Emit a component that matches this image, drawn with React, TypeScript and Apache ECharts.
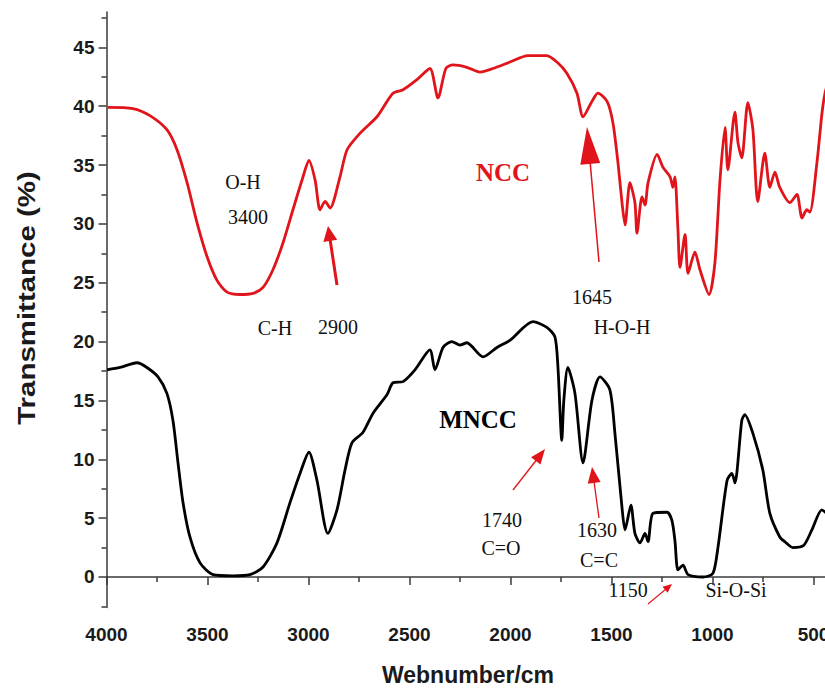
import React, { useEffect, useRef } from "react";
import * as echarts from "echarts";

// ---- Data ----
const nccWavenumber = [
  3993, 3869, 3785, 3701, 3651, 3601, 3552, 3502, 3453, 3403, 3339, 3275, 3225, 3176, 3126, 3077,
  3027, 2998, 2967, 2943, 2918, 2893, 2844, 2809, 2745, 2661, 2582, 2532, 2460, 2399, 2359, 2320,
  2285, 2216, 2151, 2087, 2003, 1914, 1820, 1770, 1721, 1671, 1641, 1597, 1567, 1522, 1493, 1468,
  1448, 1433, 1409, 1384, 1374, 1349, 1334, 1319, 1274, 1245, 1210, 1196, 1186, 1171, 1161, 1136,
  1121, 1087, 1062, 1017, 988, 963, 938, 924, 889, 874, 855, 825, 800, 776, 741, 716, 691, 667,
  617, 582, 557, 533, 518, 483, 458, 443, 420,
];
const nccTransmittance = [
  39.9, 39.8, 39.2, 38.0, 36.3, 33.5, 30.1, 27.2, 25.2, 24.2, 24.0, 24.1, 24.6, 26.1, 28.4, 31.2,
  34.0, 35.4, 33.7, 31.2, 31.9, 31.35, 34.0, 36.3, 37.7, 39.1, 41.1, 41.4, 42.3, 43.2, 40.7, 43.2,
  43.5, 43.3, 42.9, 43.2, 43.75, 44.3, 44.3, 43.75, 42.8, 41.1, 39.1, 40.4, 41.1, 40.4, 38.6, 35.2,
  31.8, 29.9, 33.5, 31.8, 29.2, 32.3, 31.6, 33.5, 35.9, 34.8, 34.0, 33.1, 34.0, 29.5, 26.3, 29.1,
  25.8, 27.6, 26.1, 24.0, 26.7, 33.7, 38.2, 34.6, 39.5, 36.9, 35.6, 40.3, 38.0, 31.9, 36.0, 33.1,
  34.4, 33.1, 31.8, 32.5, 30.5, 31.2, 31.0, 35.2, 39.4, 41.1, 42.5,
];
const mnccWavenumber = [
  3997, 3933, 3849, 3800, 3745, 3701, 3671, 3646, 3621, 3587, 3537, 3472, 3374, 3290, 3225, 3156,
  3092, 3042, 2998, 2958, 2904, 2859, 2819, 2785, 2730, 2681, 2611, 2582, 2532, 2473, 2399, 2374,
  2334, 2290, 2250, 2216, 2136, 2067, 2003, 1889, 1820, 1780, 1765, 1746, 1736, 1716, 1681, 1641,
  1597, 1557, 1508, 1483, 1448, 1433, 1404, 1384, 1359, 1334, 1319, 1295, 1225, 1201, 1186, 1171,
  1146, 1121, 1047, 998, 973, 928, 904, 889, 855, 840, 800, 751, 716, 667, 642, 602, 548, 508, 459,
  434, 420,
];
const mnccTransmittance = [
  17.6, 17.8, 18.2, 17.8, 17.0, 15.6, 13.3, 9.7, 6.3, 3.4, 1.2, 0.2, 0.1, 0.2, 0.85, 2.9,
  6.3, 8.8, 10.6, 8.2, 3.7, 5.7, 9.1, 11.4, 12.3, 13.9, 15.5, 16.5, 16.6, 17.6, 19.3, 17.6,
  19.5, 20.0, 19.7, 19.9, 18.7, 19.5, 20.1, 21.7, 21.2, 20.4, 17.8, 11.6, 15.0, 17.8, 15.6, 9.7,
  15.0, 17.0, 15.9, 12.2, 5.9, 4.0, 6.1, 3.7, 2.9, 3.7, 3.0, 5.4, 5.5, 4.8, 3.1, 0.6,
  1.0, 0.2, 0.0, 0.3, 2.5, 8.2, 8.8, 8.0, 13.3, 13.8, 12.2, 9.1, 5.4, 3.4, 3.0, 2.5, 2.7, 4.0, 5.7,
  5.4, 5.2,
];

const xMajorTicks = [4000, 3500, 3000, 2500, 2000, 1500, 1000, 500];
const xMinorTicks = [3750, 3250, 2750, 2250, 1750, 1250, 750];
const yMajorTicks = [0, 5, 10, 15, 20, 25, 30, 35, 40, 45];
const yMinorTicks = [-2.5, 2.5, 7.5, 12.5, 17.5, 22.5, 27.5, 32.5, 37.5, 42.5, 47.5];

const X_MIN = 400;
const X_MAX = 4000;
const Y_MIN = -2.6;
const Y_MAX = 48;

const RED = "#e0141a";
const AXIS = "#3a3a3a";
const SERIF = '"Liberation Serif", "Times New Roman", serif';
const SANS = '"Liberation Sans", Arial, sans-serif';

type Pt = [number, number];

function arrow(tail: Pt, tip: Pt, lineWidth: number, headLen: number, headHalf: number, color: string) {
  const dx = tip[0] - tail[0];
  const dy = tip[1] - tail[1];
  const len = Math.sqrt(dx * dx + dy * dy);
  const ux = dx / len;
  const uy = dy / len;
  const bx = tip[0] - ux * headLen;
  const by = tip[1] - uy * headLen;
  const px = -uy;
  const py = ux;
  return [
    {
      type: "line",
      silent: true,
      shape: { x1: tail[0], y1: tail[1], x2: bx + ux * 2, y2: by + uy * 2 },
      style: { stroke: color, lineWidth },
    },
    {
      type: "polygon",
      silent: true,
      shape: {
        points: [
          [tip[0], tip[1]],
          [bx + px * headHalf, by + py * headHalf],
          [bx - px * headHalf, by - py * headHalf],
        ],
      },
      style: { fill: color },
    },
  ];
}

function label(text: string, x: number, y: number, size: number, color = "#111", weight = "normal") {
  return {
    type: "text",
    silent: true,
    x,
    y,
    style: {
      text,
      fill: color,
      fontFamily: SERIF,
      fontSize: size,
      fontWeight: weight,
      align: "center",
      verticalAlign: "middle",
    },
  };
}

export default function App() {
  const ref = useRef<HTMLDivElement>(null);

  useEffect(() => {
    if (!ref.current) return;
    const chart = echarts.init(ref.current, undefined, { renderer: "svg" });

    const ncc = nccWavenumber.map((w, i) => [w, nccTransmittance[i]]);
    const mncc = mnccWavenumber.map((w, i) => [w, mnccTransmittance[i]]);

    const plain = (v: number) => String(v);

    const baseX = {
      type: "value",
      min: X_MIN,
      max: X_MAX,
      inverse: true,
      position: "bottom",
      splitLine: { show: false },
    };
    const baseY = {
      type: "value",
      min: Y_MIN,
      max: Y_MAX,
      position: "left",
      splitLine: { show: false },
    };

    chart.setOption({
      animation: false,
      backgroundColor: "#ffffff",
      grid: {
        left: 106.5,
        top: 12,
        width: 727.2,
        height: 595.6,
        containLabel: false,
        outerBoundsMode: "none",
      },
      xAxis: [
        {
          ...baseX,
          axisLine: { show: true, lineStyle: { color: AXIS, width: 1.5 } },
          axisTick: { show: true, length: 8, customValues: xMajorTicks, lineStyle: { color: AXIS, width: 1.5 } },
          axisLabel: {
            show: true,
            customValues: xMajorTicks,
            formatter: plain,
            margin: 17,
            color: "#1a1a1a",
            fontFamily: SANS,
            fontWeight: "bold",
            fontSize: 19,
          },
        },
        {
          ...baseX,
          axisLine: { show: false },
          axisTick: { show: true, length: 5, customValues: xMinorTicks, lineStyle: { color: AXIS, width: 1.5 } },
          axisLabel: { show: false },
        },
      ],
      yAxis: [
        {
          ...baseY,
          axisLine: { show: true, lineStyle: { color: AXIS, width: 1.5 } },
          axisTick: { show: true, length: 8, customValues: yMajorTicks, lineStyle: { color: AXIS, width: 1.5 } },
          axisLabel: {
            show: true,
            customValues: yMajorTicks,
            formatter: plain,
            margin: 12,
            color: "#1a1a1a",
            fontFamily: SANS,
            fontWeight: "bold",
            fontSize: 19,
          },
        },
        {
          ...baseY,
          axisLine: { show: false },
          axisTick: { show: true, length: 5, customValues: yMinorTicks, lineStyle: { color: AXIS, width: 1.5 } },
          axisLabel: { show: false },
        },
      ],
      series: [
        {
          name: "NCC",
          type: "line",
          xAxisIndex: 0,
          yAxisIndex: 0,
          data: ncc,
          showSymbol: false,
          symbol: "none",
          smooth: 0.25,
          lineStyle: { color: RED, width: 2.8 },
        },
        {
          name: "MNCC",
          type: "line",
          xAxisIndex: 0,
          yAxisIndex: 0,
          data: mncc,
          showSymbol: false,
          symbol: "none",
          smooth: 0.25,
          lineStyle: { color: "#000000", width: 2.8 },
        },
      ],
      graphic: [
        {
          type: "text",
          silent: true,
          x: 468,
          y: 675,
          style: {
            text: "Webnumber/cm",
            fill: "#1a1a1a",
            fontFamily: SANS,
            fontWeight: "bold",
            fontSize: 23,
            align: "center",
            verticalAlign: "middle",
          },
        },
        {
          type: "text",
          silent: true,
          x: 27,
          y: 298,
          rotation: Math.PI / 2,
          scaleX: 1.28,
          style: {
            text: "Transmittance (%)",
            fill: "#1a1a1a",
            fontFamily: SANS,
            fontWeight: "bold",
            fontSize: 23,
            align: "center",
            verticalAlign: "middle",
          },
        },
        label("O-H", 243, 182, 20),
        label("3400", 248, 217, 20),
        label("C-H", 275, 328, 20),
        label("2900", 338, 327, 20),
        label("NCC", 503, 172, 25, RED, "bold"),
        label("1645", 592, 297, 20),
        label("H-O-H", 622, 327, 20),
        label("MNCC", 478, 419, 25, "#000", "bold"),
        label("1740", 502, 520, 20),
        label("C=O", 501, 548, 20),
        label("1630", 597, 530, 20),
        label("C=C", 599, 560, 20),
        label("1150", 628, 590, 20),
        label("Si-O-Si", 736, 590, 20),
        ...arrow([337, 285], [328, 226], 3, 15, 7, RED),
        ...arrow([599, 262], [587, 127], 1.5, 37, 10, RED),
        ...arrow([513, 490], [545, 449], 1.3, 15, 6, RED),
        ...arrow([599, 518], [592, 467], 1.3, 16, 6.5, RED),
        ...arrow([648, 604], [672, 584], 1.1, 9, 4, RED),
      ],
    });

    return () => {
      chart.dispose();
    };
  }, []);

  return (
    <div
      style={{
        position: "fixed",
        left: 0,
        top: 0,
        width: 825,
        height: 688,
        overflow: "hidden",
        background: "#fff",
      }}
    >
      <div ref={ref} style={{ width: 860, height: 688 }} />
    </div>
  );
}
